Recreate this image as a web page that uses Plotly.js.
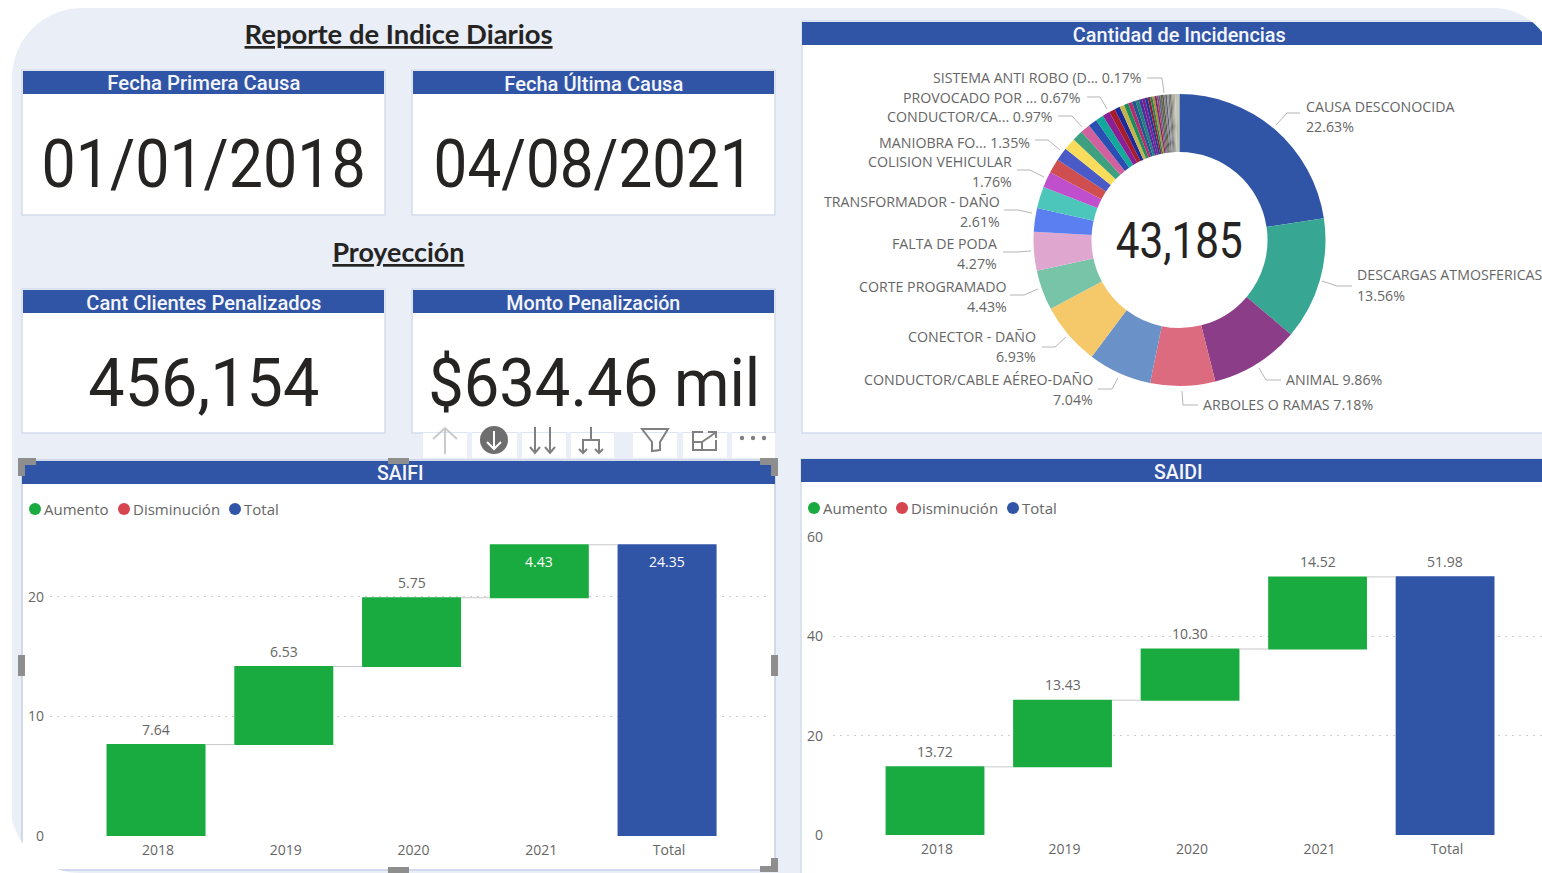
<!DOCTYPE html>
<html><head><meta charset="utf-8">
<script src="https://cdn.plot.ly/plotly-3.0.1.min.js"></script>
<style>html,body{margin:0;padding:0;background:#fff;overflow:hidden}#c{width:1542px;height:873px}</style>
</head><body><div id="c"></div>
<script>
// ---------- data ----------
const years = ['2018','2019','2020','2021','Total'];
const saifiValues = [7.64, 6.53, 5.75, 4.43, 24.35];
const saidiValues = [13.72, 13.43, 10.30, 14.52, 51.98];
const waterfallMeasures = ['relative','relative','relative','relative','absolute'];
const yTicksSaifi = [0,10,20];
const yTicksSaidi = [0,20,40,60];
const legendNames = ['Aumento','Disminución','Total'];

const causeNames = ['CAUSA DESCONOCIDA','DESCARGAS ATMOSFERICAS','ANIMAL','ARBOLES O RAMAS','CONDUCTOR/CABLE AÉREO-DAÑO','CONECTOR - DAÑO','CORTE PROGRAMADO','FALTA DE PODA','TRANSFORMADOR - DAÑO','OTRA A','COLISION VEHICULAR','OTRA B','OTRA C','MANIOBRA FO...','OTRA D','OTRA E','CONDUCTOR/CA...','OTRA F','OTRA G','PROVOCADO POR ...','OTRA H','OTRA I','OTRA J','OTRA K','OTRA L','OTRA M','OTRA N','OTRA O','OTRA P','OTRA Q','OTRA R','OTRA S','OTRA T','OTRA U','OTRA V','OTRA W','OTRA X','OTRA Y','OTRA Z','SISTEMA ANTI ROBO (D...','OTRA AA','OTRA AB','OTRA AC','OTRA AD','OTRA AE','OTRA AF','OTRA AG','OTRA AH','OTRA AI'];
const causeValues = [22.63,13.56,9.86,7.18,7.04,6.93,4.43,4.27,2.61,2.40,1.76,1.60,1.48,1.35,1.18,1.08,0.97,0.88,0.80,0.67,0.60,0.52,0.48,0.44,0.40,0.38,0.35,0.33,0.30,0.28,0.26,0.24,0.22,0.21,0.20,0.19,0.18,0.18,0.17,0.17,0.16,0.15,0.14,0.14,0.14,0.13,0.13,0.12,0.11];
const causeColors = ['#3155A6','#37A794','#8B3D88','#DD6B7F','#6B91C9','#F5C869','#77C4A9','#DFA6D0','#5B7FF0','#4CC5BB','#C04FCE','#CF4F50','#4A5BC8','#F9DC5C','#3FA07F','#D0609E','#2A4FB3','#12A89A','#8A2096','#A81C2B','#1E2A9A','#C4B54B','#1E8C5B','#B32E6E','#23558F','#1F7F7A','#4A2F9E','#7A1F8F','#1A3A9A','#8C1F3A','#2E7D4F','#A89030','#6B2E7E','#B0405E','#3A6B8F','#706030','#555555','#888888','#5B5B70','#9A9A9A','#777777','#6E6E78','#8C8C80','#A0A090','#B5B5A0','#C5C5B5','#A8B0A0','#BDBDB0','#9CA898'];
const totalIncidents = '43,185';

const pieLabelRows = [
 ['SISTEMA ANTI ROBO (D... 0.17%',1142,77.5,'right'],
 ['PROVOCADO POR ... 0.67%',1081,97.5,'right'],
 ['CONDUCTOR/CA... 0.97%',1053,116.5,'right'],
 ['MANIOBRA FO... 1.35%',1030,142.5,'right'],
 ['COLISION VEHICULAR',1012,161.5,'right'],['1.76%',1012,181.5,'right'],
 ['TRANSFORMADOR - DAÑO',1000,201.5,'right'],['2.61%',1000,221.5,'right'],
 ['FALTA DE PODA',997,243.5,'right'],['4.27%',997,263.5,'right'],
 ['CORTE PROGRAMADO',1007,286.5,'right'],['4.43%',1007,306.5,'right'],
 ['CONECTOR - DAÑO',1036,336.5,'right'],['6.93%',1036,356.5,'right'],
 ['CONDUCTOR/CABLE AÉREO-DAÑO',1093,379.5,'right'],['7.04%',1093,399.5,'right'],
 ['ARBOLES O RAMAS 7.18%',1203,404.5,'left'],
 ['ANIMAL 9.86%',1286,379.5,'left'],
 ['DESCARGAS ATMOSFERICAS',1357,274.5,'left'],['13.56%',1357,295.5,'left'],
 ['CAUSA DESCONOCIDA',1306,106.5,'left'],['22.63%',1306,126.5,'left']
];
const leaderLines = [
 [[1147,78],[1162,78],[1164,93]],
 [[1087,97],[1100,97],[1107,109]],
 [[1058,116],[1072,116],[1082,127]],
 [[1035,140],[1048,140],[1060,150]],
 [[1017,170],[1030,170],[1044,177]],
 [[1004,210],[1018,210],[1032,213]],
 [[1003,252],[1017,252],[1031,251]],
 [[1010,295],[1024,295],[1038,289]],
 [[1042,347],[1055,347],[1066,337]],
 [[1098,389],[1112,389],[1118,378]],
 [[1198,405],[1183,405],[1182,391]],
 [[1281,380],[1266,380],[1259,368]],
 [[1352,286],[1337,286],[1322,281]],
 [[1300,113],[1287,113],[1276,125]]
];
// drawn widths of the DIN-like texts in the reference
const textWidths = {
 '01/01/2018':324,'04/08/2021':320,'456,154':231,'$634.46 mil':332,'43,185':127,
 'Fecha Primera Causa':193,'Fecha Última Causa':179,'Cant Clientes Penalizados':235,'Monto Penalización':174,
 'Cantidad de Incidencias':213,'Reporte de Indice Diarios':308,'Proyección':132
};

// ---------- helpers (pixel -> paper) ----------
const W=1542,H=873;
const X=x=>x/W, Y=y=>1-y/H;
const BLUE='#3155A6',GREEN='#1AAB40',RED='#D64550',BG='#E9EEF7',EDGE='#D3DCEC',GRAY='#666666',HANDLE='#8E8E8E';
const SEGOE='"Open Sans","Noto Sans",sans-serif', DIN='Roboto,sans-serif';
const shapes=[], annotations=[];
const rect=(x0,y0,x1,y1,fill,line,layer)=>shapes.push({type:'rect',xref:'paper',yref:'paper',x0:X(x0),x1:X(x1),y0:Y(y0),y1:Y(y1),fillcolor:fill,line:{width:line?1.5:0,color:line||fill},layer:layer||'below'});
const poly=(pts,close)=>pts.map((p,i)=>(i?'L':'M')+X(p[0]).toFixed(5)+' '+Y(p[1]).toFixed(5)).join(' ')+(close?' Z':'');
const path=(d,color,width,fill,layer)=>shapes.push({type:'path',xref:'paper',yref:'paper',path:d,line:{color:color||'rgba(0,0,0,0)',width:width||0},fillcolor:fill||'rgba(0,0,0,0)',layer:layer||'above'});
const circle=(cx,cy,r,fill,layer)=>shapes.push({type:'circle',xref:'paper',yref:'paper',x0:X(cx-r),x1:X(cx+r),y0:Y(cy+r),y1:Y(cy-r),fillcolor:fill,line:{width:0},layer:layer||'above'});
const text=(t,x,y,anchor,size,color,family,extra)=>annotations.push({text:t,xref:'paper',yref:'paper',x:X(x),y:Y(y),xanchor:anchor,yanchor:'middle',showarrow:false,font:Object.assign({size,color,family},extra||{}),borderpad:0,borderwidth:0});
const arcPts=(cx,cy,r,a0,a1)=>{const o=[];for(let i=0;i<=24;i++){const a=(a0+(a1-a0)*i/24)*Math.PI/180;o.push([cx+r*Math.cos(a),cy+r*Math.sin(a)]);}return o;};

// ---------- page background and panels ----------
rect(12,8,1542,873,BG);
const HEAD={size:19.5,weight:500};
const card=(x0,y0,x1,y1,title,value,valueSize)=>{
  rect(x0,y0,x1,y1,'#FFFFFF',EDGE);
  rect(x0+1,y0+1,x1-1,y0+24,BLUE);
  text(title,(x0+x1)/2,y0+14,'center',HEAD.size,'#F4F6FB',DIN,{weight:HEAD.weight});
  text(value,(x0+x1)/2,y0+94,'center',valueSize,'#252423',DIN,{weight:400});
};
card(22,70,385,215,'Fecha Primera Causa','01/01/2018',66);
card(412,70,775,215,'Fecha Última Causa','04/08/2021',66);
card(22,289,385,433,'Cant Clientes Penalizados','456,154',66);
card(412,289,775,433,'Monto Penalización','$634.46 mil',66);
text('Reporte de Indice Diarios',398,34,'center',27,'#252423','"Lato","Noto Sans",sans-serif',{weight:700,lineposition:'under'});
text('Proyección',398,252,'center',27,'#252423','"Lato","Noto Sans",sans-serif',{weight:700,lineposition:'under'});

// donut panel
rect(802,21,1545,433,'#FFFFFF',EDGE);
rect(802,22,1545,45,BLUE);
text('Cantidad de Incidencias',1179,36,'center',HEAD.size,'#F4F6FB',DIN,{weight:HEAD.weight});
text(totalIncidents,1179,241,'center',50,'#252423',DIN);
leaderLines.forEach(l=>path(poly(l),'#B5B5B5',1,null,'below'));
pieLabelRows.forEach(r=>text(r[0],r[1],r[2],r[3],14.2,GRAY,SEGOE));

// SAIFI panel
rect(22,460,775,870,'#FFFFFF','#C5D0E6');
rect(22,461,775,484,BLUE);
text('SAIFI',400,474,'center',HEAD.size,'#F4F6FB',DIN,{weight:HEAD.weight});
// SAIDI panel
rect(801,459,1545,880,'#FFFFFF',EDGE);
rect(801,459,1545,482,BLUE);
text('SAIDI',1178,473,'center',HEAD.size,'#F4F6FB',DIN,{weight:HEAD.weight});

// waterfall legends
const legendColors=[GREEN,RED,BLUE];
const legend=(dots,labels,y)=>legendNames.forEach((n,i)=>{circle(dots[i],y,6,legendColors[i]);text(n,labels[i],y,'left',15,GRAY,SEGOE);});
legend([35,124,235],[44,133,244],509);
legend([814,902,1013],[823,911,1022],508);

// waterfall data labels, placed on the axes
const barLabels=(vals,xref,yref,insideIdx)=>{let run=0;vals.forEach((v,i)=>{
  const isTotal=waterfallMeasures[i]==='absolute'; run=isTotal?v:run+v;
  const inside=insideIdx.includes(i);
  annotations.push({text:v.toFixed(2),xref,yref,x:i,y:run,yshift:inside?-17:15.5,yanchor:'middle',xanchor:'center',showarrow:false,font:{size:14,color:inside?'#FFFFFF':GRAY,family:SEGOE}});
});};
barLabels(saifiValues,'x','y',[3,4]);
barLabels(saidiValues,'x2','y2',[]);

// visual toolbar
rect(423,433,775,458,'#FFFFFF');
[[467,472],[517,522],[566,571],[614,633],[677,683],[727,732]].forEach(g=>rect(g[0],432,g[1],458,BG));
path(poly([[445,454],[445,428]]),'#C9C9C9',2);
path(poly([[433,439],[445,428],[457,439]]),'#C9C9C9',2);
circle(494,440,14,'#6E6E6E');
path(poly([[494,431],[494,449]]),'#FFFFFF',2);
path(poly([[487,442],[494,449],[501,442]]),'#FFFFFF',2);
[535,550].forEach(x=>{path(poly([[x,427],[x,453]]),'#808080',2);path(poly([[x-5,447],[x,453],[x+5,447]]),'#808080',2);});
path(poly([[591,427],[591,440]]),'#808080',2);
path(poly([[583,453],[583,440],[599,440],[599,453]]),'#808080',2);
[583,599].forEach(x=>path(poly([[x-4,449],[x,453],[x+4,449]]),'#808080',2));
path(poly([[642,429],[668,429],[660,442],[660,450],[652,451],[652,442]],true),'#808080',2);
path(poly([[703,432],[693,432],[693,450],[716,450],[716,440]]),'#808080',2);
path(poly([[693,442],[702,442],[702,450]]),'#808080',2);
path(poly([[702,442],[715,433]]),'#808080',2);
path(poly([[708,432],[716,432],[716,438]]),'#808080',2);
[742,753,764].forEach(x=>circle(x,438,2.2,'#808080'));

// selection handles
[[18,458,36,465],[18,458,25,476],[760,458,778,465],[771,458,778,476],[18,655,25,676],[771,655,778,676],[388,458,409,464],[771,858,778,872],[760,866,778,872],[388,867,409,873]].forEach(h=>rect(h[0],h[1],h[2],h[3],HANDLE,null,'above'));

// rounded page corners
const mask=(pts)=>path(poly(pts,true),null,0,'#FFFFFF','above');
mask([[0,0],[160,0],[160,8],...arcPts(82,78,70,-90,-180),[12,160],[0,160]]);
mask([[0,873],[0,730],[10,730],...arcPts(80,803,70,180,90),[80,873]]);
mask([[1542,0],[1400,0],[1400,8],...arcPts(1493,70,62,-90,-30),[1542,40]]);
rect(0,0,12,873,'#FFFFFF',null,'below');

// ---------- traces ----------
const wf=(vals,xa,ya)=>({type:'waterfall',x:years,y:vals,measure:waterfallMeasures,xaxis:xa,yaxis:ya,textinfo:'none',
  increasing:{marker:{color:GREEN,line:{width:0}}},decreasing:{marker:{color:RED,line:{width:0}}},totals:{marker:{color:BLUE,line:{width:0}}},
  connector:{line:{color:'#C8C8C8',width:1},mode:'end'},hoverinfo:'x+y',showlegend:false});

const data=[
 wf(saifiValues,'x','y'),
 wf(saidiValues,'x2','y2'),
 {type:'pie',labels:causeNames,values:causeValues,sort:false,direction:'clockwise',rotation:0,hole:0.603,
  textinfo:'none',marker:{colors:causeColors,line:{width:0}},showlegend:false,
  domain:{x:[X(1033.5),X(1325.5)],y:[Y(386),Y(94)]},automargin:false}
];
const xa=(dom,range)=>({type:'category',categoryorder:'array',categoryarray:years,domain:dom,range,showgrid:false,zeroline:false,showline:false,ticks:'',ticklen:0,ticklabelshift:2,ticklabelstandoff:4,tickfont:{size:14,color:GRAY,family:SEGOE},fixedrange:true});
const ya=(dom,range,tv,anchor,standoff)=>({domain:dom,range,tickmode:'array',tickvals:tv,ticktext:tv.map(String),showgrid:true,gridcolor:'#CFCFCF',griddash:'2px,5px',gridwidth:1,zeroline:false,showline:false,ticks:'',ticklabelstandoff:standoff,tickfont:{size:14,color:GRAY,family:SEGOE},anchor,fixedrange:true});
const layout={width:W,height:H,margin:{l:0,r:0,t:0,b:0,pad:0},paper_bgcolor:'#FFFFFF',plot_bgcolor:'rgba(0,0,0,0)',showlegend:false,waterfallgap:0.225,
 xaxis:Object.assign(xa([X(50),X(768)],[-0.83,4.79]),{anchor:'y'}),
 yaxis:ya([Y(836),Y(531)],[0,25.5],yTicksSaifi,'x',5),
 xaxis2:Object.assign(xa([X(833),1],[-0.8,4.76]),{anchor:'y2'}),
 yaxis2:ya([Y(835),Y(537)],[0,60],yTicksSaidi,'x2',9),
 shapes,annotations};
Plotly.newPlot('c',data,layout,{displayModeBar:false,staticPlot:true}).then(gd=>{
  gd.querySelectorAll('.annotation-text').forEach(el=>{
    const w=textWidths[el.textContent];
    if(w){el.setAttribute('textLength',w);el.setAttribute('lengthAdjust','spacingAndGlyphs');}
  });
});
</script></body></html>
